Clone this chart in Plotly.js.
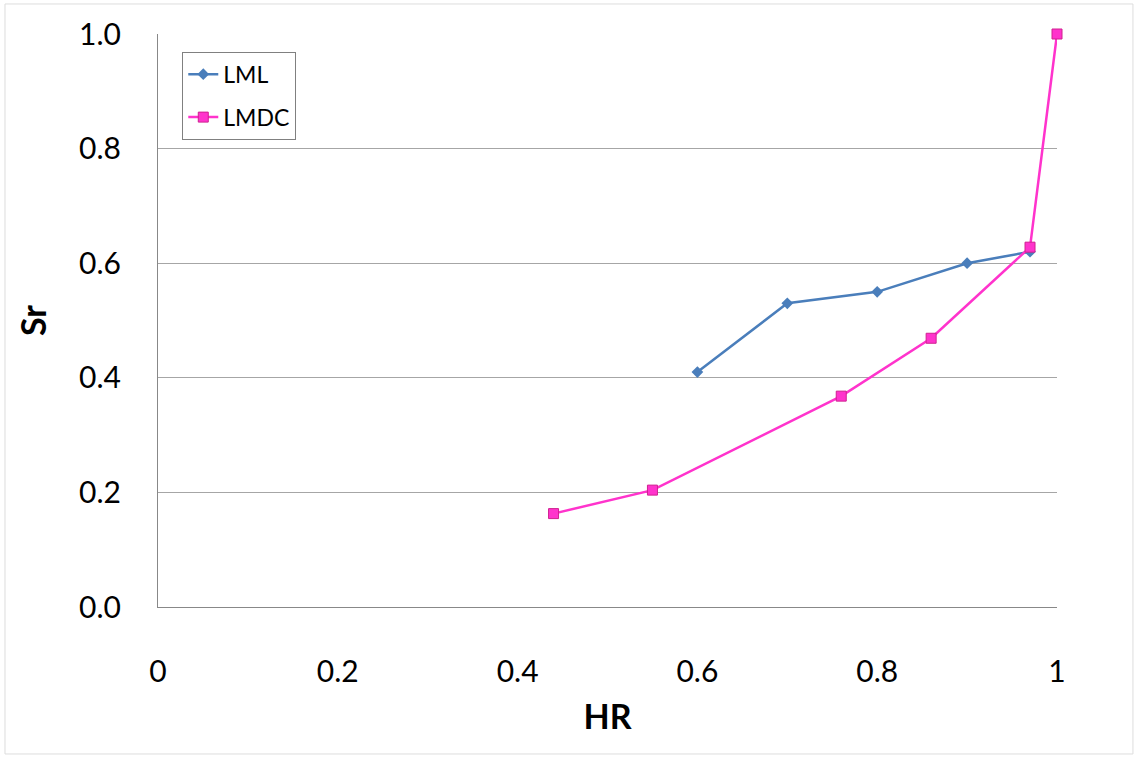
<!DOCTYPE html>
<html>
<head>
<meta charset="utf-8">
<script src="https://cdn.plot.ly/plotly-3.0.1.min.js"></script>
<style>html,body{margin:0;padding:0;background:#fff;}#chart{width:1137px;height:758px;}</style>
</head>
<body>
<div id="chart"></div>
<script>
const lmlHR = [0.6, 0.7, 0.8, 0.9, 0.97];
const lmlSr = [0.41, 0.53, 0.55, 0.60, 0.62];
const lmdcHR = [0.44, 0.55, 0.76, 0.86, 0.97, 1.0];
const lmdcSr = [0.163, 0.204, 0.368, 0.469, 0.628, 1.0];
const xTicks = [0, 0.2, 0.4, 0.6, 0.8, 1];
const yTicks = [0, 0.2, 0.4, 0.6, 0.8, 1.0];

const FONT = 'Lato, "Open Sans", sans-serif';

const traces = [
  {
    x: lmlHR, y: lmlSr, name: 'LML', type: 'scatter', mode: 'lines+markers',
    legendgroup: 'a',
    line: {color: '#4a7ebb', width: 2.5},
    marker: {symbol: 'diamond', size: 9, color: '#4a7ebb'},
    cliponaxis: false
  },
  {
    x: lmdcHR, y: lmdcSr, name: 'LMDC', type: 'scatter', mode: 'lines+markers',
    legendgroup: 'b',
    line: {color: '#ff33cc', width: 2.5},
    marker: {symbol: 'square', size: 10, color: '#ff33cc', line: {color: '#d02090', width: 1}},
    cliponaxis: false
  }
];

const layout = {
  width: 1137, height: 758,
  margin: {l: 158, r: 80, t: 34, b: 151},
  paper_bgcolor: '#ffffff', plot_bgcolor: '#ffffff',
  font: {family: FONT, color: '#000'},
  showlegend: true,
  legend: {
    x: 0.027, y: 0.969, xanchor: 'left', yanchor: 'top',
    bordercolor: '#808080', borderwidth: 1, bgcolor: '#ffffff',
    font: {family: FONT, size: 23, color: '#000'},
    tracegroupgap: 10, traceorder: 'grouped'
  },
  xaxis: {
    range: [0, 1], tickvals: xTicks, ticktext: xTicks.map(v => String(v)),
    showgrid: false, zeroline: false,
    showline: true, linecolor: '#888888', linewidth: 1,
    ticks: '', ticklabelstandoff: 38,
    tickfont: {family: FONT, size: 30, color: '#000'},
    title: {text: 'HR', font: {family: FONT, size: 34, color: '#000', weight: 'bold'}, standoff: 18},
    fixedrange: true
  },
  yaxis: {
    range: [0, 1], tickvals: yTicks, tickformat: '.1f',
    showgrid: true, gridcolor: '#a6a6a6', gridwidth: 1,
    zeroline: false,
    showline: true, linecolor: '#888888', linewidth: 1,
    ticks: '', ticklabelstandoff: 30,
    tickfont: {family: FONT, size: 30, color: '#000'},
    title: {text: 'Sr', font: {family: FONT, size: 34, color: '#000', weight: 'bold'}, standoff: 22},
    fixedrange: true
  },
  shapes: [
    {type: 'rect', xref: 'paper', yref: 'paper',
     x0: -0.1702, x1: 1.0845, y0: -0.2565, y1: 1.0524,
     line: {color: '#dddddd', width: 1}, fillcolor: 'rgba(0,0,0,0)', layer: 'below'}
  ]
};

Plotly.newPlot('chart', traces, layout, {displayModeBar: false, staticPlot: true});
</script>
</body>
</html>
